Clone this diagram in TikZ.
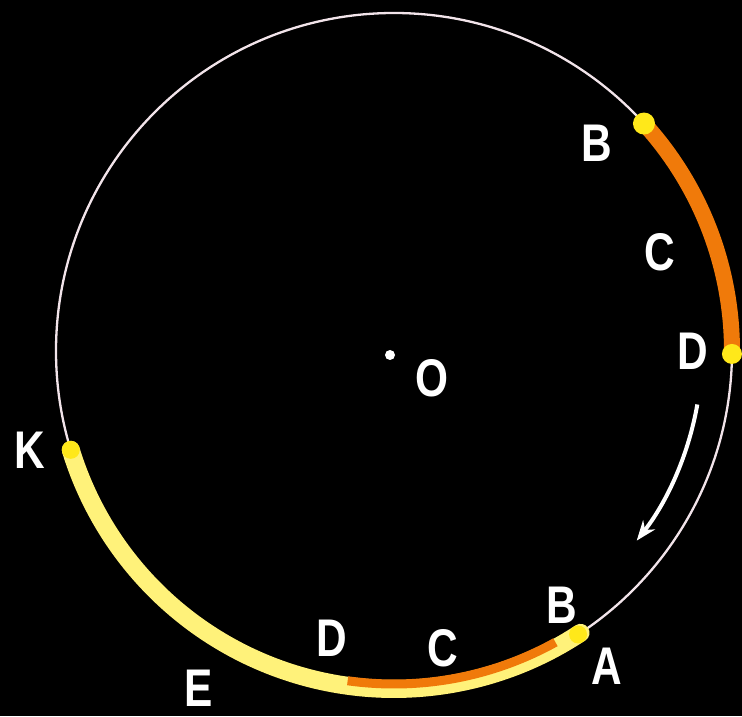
\documentclass[tikz,border=0pt]{standalone}
\usepackage{fontspec}
\setmainfont{Liberation Sans}
\usetikzlibrary{arrows.meta}
\definecolor{ring}{HTML}{F2E4EA}
\definecolor{orangeband}{HTML}{F07A0A}
\definecolor{dotyellow}{HTML}{FFE81A}
\definecolor{paleyellow}{HTML}{FFF27A}
\begin{document}
\begin{tikzpicture}[x=1pt,y=1pt,
  lbl/.style={text=white, font=\fontsize{53}{53}\selectfont\bfseries, xscale=0.8, inner sep=0pt}]
\fill[black] (0,0) rectangle (742,716);
\useasboundingbox (0,0) rectangle (742,716);
\coordinate (O) at (394,365);
% main circle
\draw[ring, line width=2.3pt] (O) circle[radius=338];
% top orange arc B-C-D
\draw[orangeband, line width=16pt] ([shift={(42.3:338)}]O) arc[start angle=42.3, end angle=-0.5, radius=338];
\fill[dotyellow] ([shift={(42.3:338)}]O) circle[radius=11];
\fill[dotyellow] ([shift={(-0.5:338)}]O) circle[radius=10];
% bottom yellow arc A ... K
\draw[paleyellow, line width=18pt, line cap=round] ([shift={(-56.5:338)}]O) arc[start angle=-56.5, end angle=-163, radius=338];
\draw[orangeband, line width=9pt] ([shift={(-61:333)}]O) arc[start angle=-61, end angle=-98, radius=333];
\fill[dotyellow] ([shift={(-57:338)}]O) circle[radius=9];
\fill[dotyellow] ([shift={(-163:338)}]O) circle[radius=9];
% arrow
\draw[white, line width=4pt, -{Stealth[length=20pt,width=15pt]}] ([shift={(-10:308)}]O) arc[start angle=-10, end angle=-38, radius=308];
% centre
\fill[white] (390,361) circle[radius=5];
% labels
\node[lbl] (lO) at (432,338) {O};
\node[lbl] (lB1) at (597,573) {B};
\node[lbl] (lC1) at (660,464) {C};
\node[lbl] (lD1) at (693,365) {D};
\node[lbl] (lK) at (30,266) {K};
\node[lbl] (lE) at (199,28) {E};
\node[lbl] (lD2) at (332,78) {D};
\node[lbl] (lC2) at (443,68) {C};
\node[lbl] (lB2) at (562,111) {B};
\node[lbl] (lA) at (607,50) {A};
\end{tikzpicture}
\end{document}
